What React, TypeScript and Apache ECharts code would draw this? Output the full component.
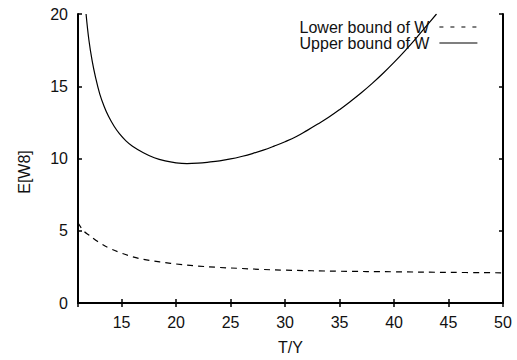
import React, { useEffect, useRef } from "react";
import * as echarts from "echarts";

const upperX = [11.74, 12.0, 12.3, 12.6, 13.0, 13.4, 13.8, 14.3, 14.8, 15.4, 16, 17, 18, 19, 20, 21, 22, 23, 24, 25, 26, 27, 28, 29, 30, 31, 32, 33, 34, 35, 36, 37, 38, 39, 40, 41, 42, 43, 43.9];
const upperY = [20, 18.2, 16.75, 15.65, 14.45, 13.6, 12.92, 12.25, 11.72, 11.22, 10.85, 10.4, 10.05, 9.83, 9.7, 9.65, 9.68, 9.75, 9.84, 9.97, 10.14, 10.34, 10.58, 10.86, 11.16, 11.5, 11.93, 12.38, 12.85, 13.38, 13.95, 14.55, 15.2, 15.9, 16.65, 17.45, 18.3, 19.2, 20];
const lowerX = [11, 11.5, 12, 12.57, 13, 14, 15, 16, 17, 18, 19, 20, 22, 24, 26, 28, 30, 35, 40, 45, 50];
const lowerY = [5.55, 5.0, 4.7, 4.38, 4.15, 3.75, 3.45, 3.2, 3.02, 2.9, 2.79, 2.7, 2.56, 2.46, 2.39, 2.32, 2.27, 2.2, 2.16, 2.12, 2.09];
const seriesNames = ["Lower bound of W", "Upper bound of W"];
const xName = "T/Y";
const yName = "E[W8]";

const FONT = "'Liberation Sans', Arial, Helvetica, sans-serif";
const TXT = "#111";
const FS = 16;

export default function App() {
  const ref = useRef<HTMLDivElement>(null);
  useEffect(() => {
    if (!ref.current) return;
    const chart = echarts.init(ref.current, undefined, { renderer: "svg" });
    const axisLine = { show: true, lineStyle: { color: "#000", width: 2 } };
    const tick = { show: true, inside: true, length: 4, lineStyle: { color: "#000", width: 1.5 } };
    const xCommon = {
      type: "value" as const,
      min: 11,
      max: 50,
      minInterval: 5,
      maxInterval: 5,
      splitLine: { show: false },
      axisLine,
      axisTick: tick,
    };
    const yCommon = {
      type: "value" as const,
      min: 0,
      max: 20,
      interval: 5,
      splitLine: { show: false },
      axisLine,
      axisTick: tick,
    };
    chart.setOption({
      animation: false,
      textStyle: { fontFamily: FONT },
      grid: { left: 78, right: 14, top: 14, bottom: 48, containLabel: false },
      legend: {
        orient: "vertical",
        right: 39,
        top: 19,
        padding: 0,
        align: "right",
        itemWidth: 38,
        itemHeight: 16,
        itemGap: 0,
        itemStyle: { opacity: 0 },
        textStyle: { fontFamily: FONT, fontSize: FS, color: TXT, padding: [0, 5, 0, 0] },
        data: [
          { name: seriesNames[0], lineStyle: { type: [4, 7], width: 1.2, color: "#000" } },
          { name: seriesNames[1], lineStyle: { width: 1.2, color: "#000" } },
        ],
      },
      xAxis: [
        {
          ...xCommon,
          position: "bottom",
          name: xName,
          nameLocation: "middle",
          nameGap: 36,
          nameTextStyle: { fontFamily: FONT, fontSize: FS, color: TXT },
          axisLabel: { showMinLabel: false, margin: 11, fontFamily: FONT, fontSize: FS, color: TXT },
        },
        {
          ...xCommon,
          position: "top",
          axisLabel: { show: false },
        },
      ],
      yAxis: [
        {
          ...yCommon,
          position: "left",
          axisLabel: { margin: 10, fontFamily: FONT, fontSize: FS, color: TXT },
        },
        {
          ...yCommon,
          position: "right",
          axisLabel: { show: false },
        },
      ],
      graphic: [
        {
          type: "text",
          x: 24,
          y: 172,
          rotation: Math.PI / 2,
          style: {
            text: yName,
            fontFamily: FONT,
            fontSize: FS,
            fill: TXT,
            align: "center",
            verticalAlign: "middle",
          },
        },
      ],
      series: [
        {
          name: seriesNames[0],
          type: "line",
          data: lowerX.map((x, i) => [x, lowerY[i]]),
          showSymbol: false,
          symbol: "none",
          smooth: 0.4,
          lineStyle: { color: "#000", width: 1.2, type: [6, 5] },
          itemStyle: { color: "#000" },
        },
        {
          name: seriesNames[1],
          type: "line",
          data: upperX.map((x, i) => [x, upperY[i]]),
          showSymbol: false,
          symbol: "none",
          smooth: 0.4,
          lineStyle: { color: "#000", width: 1.2 },
          itemStyle: { color: "#000" },
        },
      ],
    });
    return () => chart.dispose();
  }, []);
  return <div ref={ref} style={{ width: 517, height: 360, position: "absolute", left: 0, top: 0 }} />;
}
